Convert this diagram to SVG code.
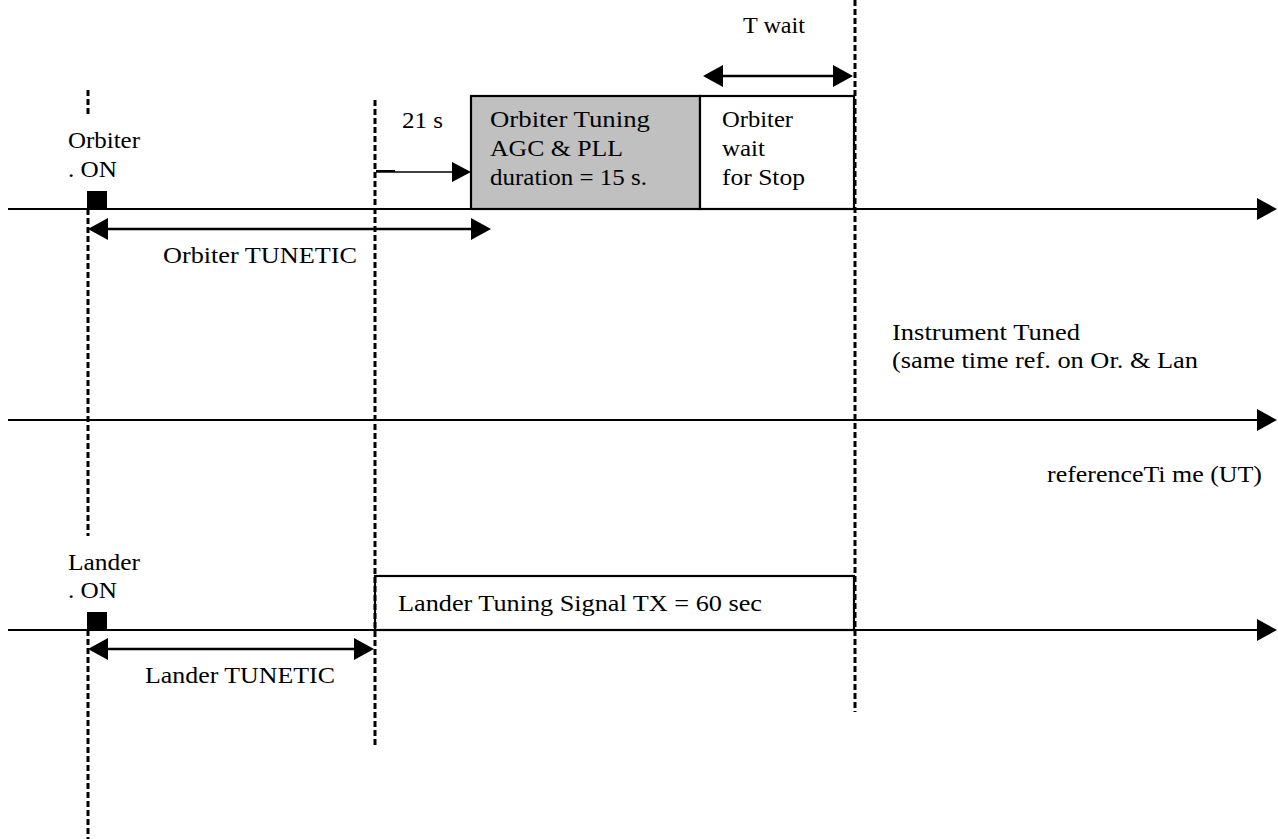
<svg xmlns="http://www.w3.org/2000/svg" width="1278" height="839" viewBox="0 0 1278 839">
<style>
text{font-family:"Liberation Serif","Times New Roman",serif;font-size:24px;fill:#000}
.axis{stroke:#000;stroke-width:2.2;fill:none}
.dash{stroke:#000;stroke-width:3;stroke-dasharray:6,3;fill:none}
.arr{stroke:#000;stroke-width:2.5;fill:none}
.thin{stroke:#000;stroke-width:1.3;fill:none}
.box{stroke:#000;stroke-width:2.2}
</style>
<defs>
<marker id="ah" markerUnits="userSpaceOnUse" markerWidth="20" markerHeight="22" refX="10" refY="11" orient="auto-start-reverse" viewBox="0 0 20 22">
<path d="M0,0 L20,11 L0,22 z" fill="#000"/>
</marker>
<marker id="ahs" markerUnits="userSpaceOnUse" markerWidth="19" markerHeight="20" refX="9" refY="10" orient="auto" viewBox="0 0 19 20">
<path d="M0,0 L19,10 L0,20 z" fill="#000"/>
</marker>
</defs>
<rect width="1278" height="839" fill="#fff"/>

<g id="orbiter-tuning">
<rect class="box" x="471" y="96" width="229" height="113" fill="#c0c0c0"/>
<text x="490" y="127" textLength="160" lengthAdjust="spacingAndGlyphs">Orbiter Tuning</text>
<text x="490" y="156" textLength="133" lengthAdjust="spacingAndGlyphs">AGC &amp; PLL</text>
<text x="490" y="185" textLength="157" lengthAdjust="spacingAndGlyphs">duration = 15 s.</text>
</g>
<g id="orbiter-wait">
<rect class="box" x="700" y="96" width="154" height="113" fill="#fff"/>
<text x="722" y="127" textLength="71" lengthAdjust="spacingAndGlyphs">Orbiter</text>
<text x="722" y="156" textLength="43" lengthAdjust="spacingAndGlyphs">wait</text>
<text x="722" y="185" textLength="83" lengthAdjust="spacingAndGlyphs">for Stop</text>
</g>
<g id="lander-tuning">
<rect class="box" x="375" y="576" width="479" height="54" fill="#fff"/>
<text x="398" y="611" textLength="364" lengthAdjust="spacingAndGlyphs">Lander Tuning Signal TX = 60 sec</text>
</g>

<g id="connectors">
<path class="dash" d="M88,90 V115 M88,209 V536 M88,630 V839"/>
<line class="dash" x1="375" y1="100" x2="375" y2="747"/>
<line class="dash" x1="855" y1="0" x2="855" y2="712"/>
<line class="axis" x1="8" y1="209" x2="1267" y2="209" marker-end="url(#ah)"/>
<line class="axis" x1="8" y1="420" x2="1267" y2="420" marker-end="url(#ah)"/>
<line class="axis" x1="8" y1="630" x2="1267" y2="630" marker-end="url(#ah)"/>
<line class="arr" x1="98" y1="229" x2="481" y2="229" marker-start="url(#ah)" marker-end="url(#ah)"/>
<line class="arr" x1="713" y1="76" x2="843" y2="76" marker-start="url(#ah)" marker-end="url(#ah)"/>
<line class="arr" x1="98" y1="649" x2="364" y2="649" marker-start="url(#ah)" marker-end="url(#ah)"/>
<line x1="376" y1="171" x2="395" y2="171" stroke="#000" stroke-width="2"/>
<line class="thin" x1="376" y1="172" x2="461" y2="172" marker-end="url(#ahs)"/>
</g>

<g id="orbiter-on">
<rect x="87" y="191" width="20" height="19" fill="#000"/>
<text x="68" y="148" textLength="72" lengthAdjust="spacingAndGlyphs">Orbiter</text>
<text x="68" y="177" textLength="49" lengthAdjust="spacingAndGlyphs">. ON</text>
</g>
<g id="lander-on">
<rect x="87" y="612" width="20" height="19" fill="#000"/>
<text x="68" y="570" textLength="72" lengthAdjust="spacingAndGlyphs">Lander</text>
<text x="68" y="598" textLength="49" lengthAdjust="spacingAndGlyphs">. ON</text>
</g>

<g id="labels">
<text x="743" y="33" textLength="62" lengthAdjust="spacingAndGlyphs">T wait</text>
<text x="402" y="128" textLength="41" lengthAdjust="spacingAndGlyphs">21 s</text>
<text x="163" y="263" textLength="194" lengthAdjust="spacingAndGlyphs">Orbiter TUNETIC</text>
<text x="892" y="340" textLength="188" lengthAdjust="spacingAndGlyphs">Instrument Tuned</text>
<text x="892" y="368" textLength="306" lengthAdjust="spacingAndGlyphs">(same time ref. on Or. &amp; Lan</text>
<text x="1047" y="482" textLength="215" lengthAdjust="spacingAndGlyphs">referenceTi me (UT)</text>
<text x="145" y="683" textLength="190" lengthAdjust="spacingAndGlyphs">Lander TUNETIC</text>
</g>
</svg>
